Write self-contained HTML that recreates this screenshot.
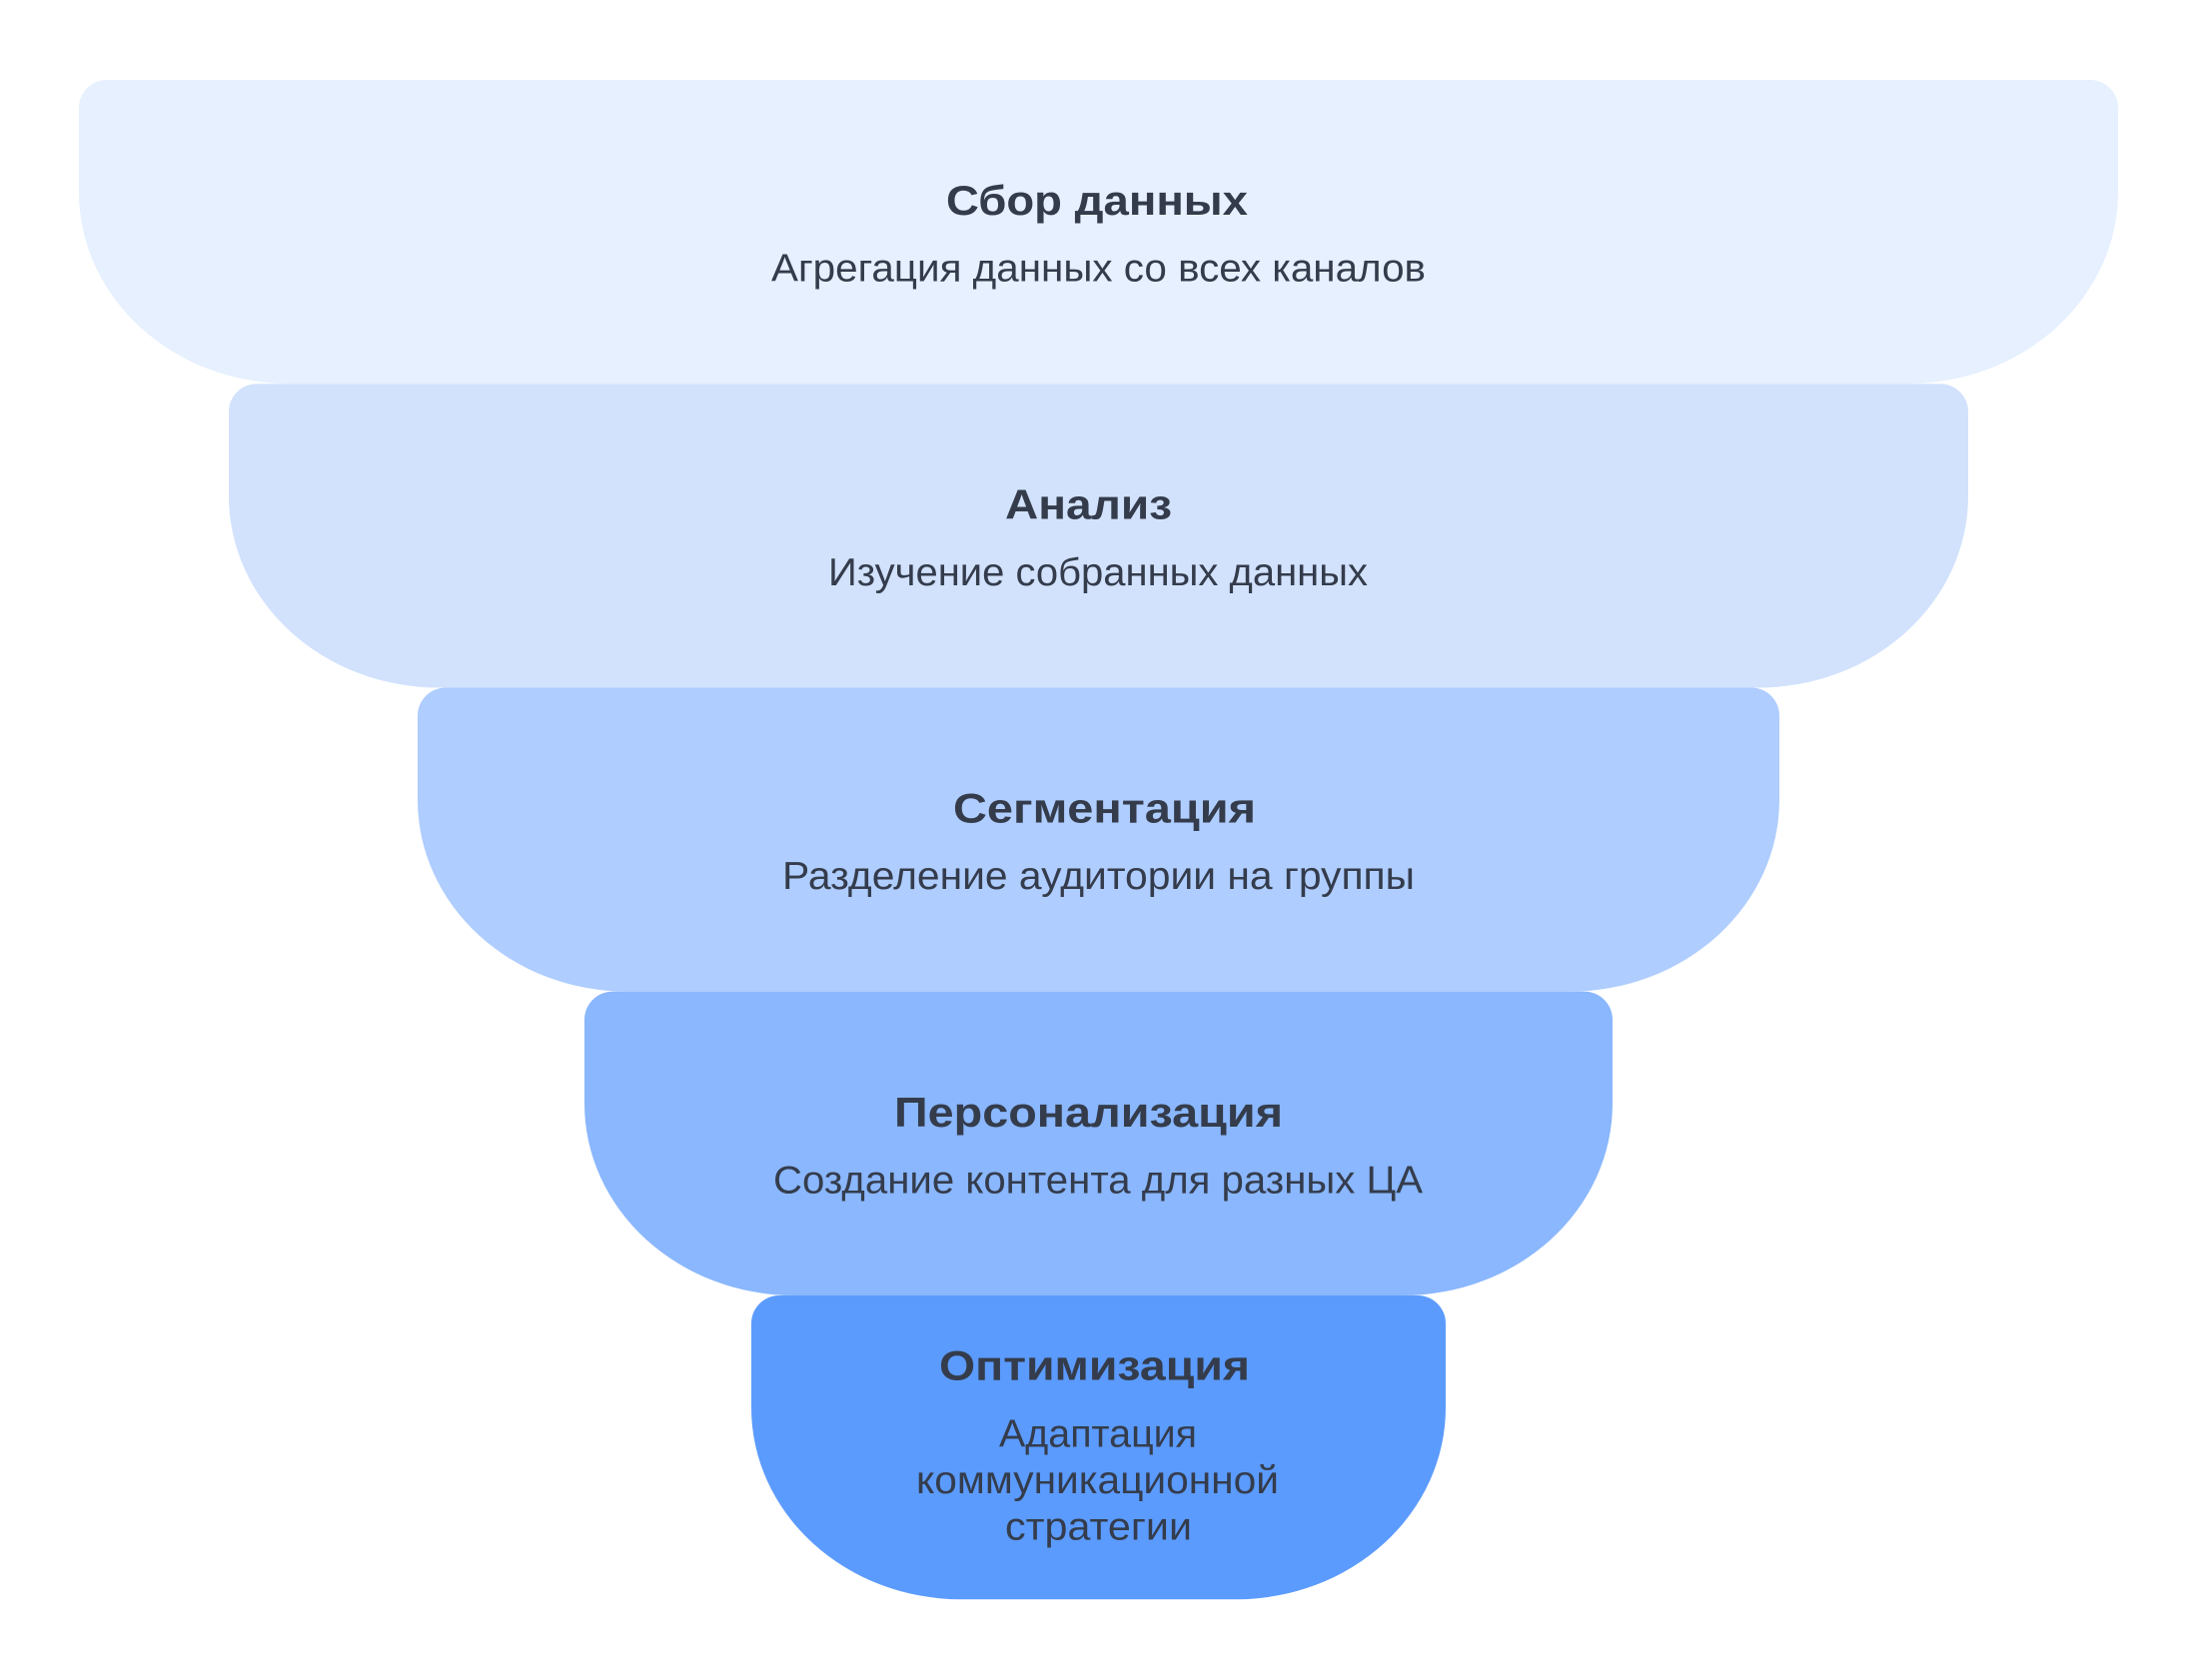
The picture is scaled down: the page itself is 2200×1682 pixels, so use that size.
<!DOCTYPE html>
<html>
<head>
<meta charset="utf-8">
<style>
  html, body { margin: 0; padding: 0; background: #ffffff; }
  body { width: 2200px; height: 1682px; overflow: hidden; }
  svg { display: block; }
  .t { font-family: "Liberation Sans", "Noto Sans CJK SC", sans-serif; font-weight: 700; font-size: 42px; fill: #343c4c; }
  .s { font-family: "Liberation Sans", "Noto Sans CJK SC", sans-serif; font-weight: 400; font-size: 39px; fill: #343c4c; }
</style>
</head>
<body>
<svg width="2200" height="1682" viewBox="0 0 2200 1682" xmlns="http://www.w3.org/2000/svg">
  <rect x="0" y="0" width="2200" height="1682" fill="#ffffff"/>

  <!-- Shape 1 -->
  <path fill="#E6F0FE" d="M107,80 H2092 A28,28 0 0 1 2120,108 V192 A210,192 0 0 1 1910,384 H289 A210,192 0 0 1 79,192 V108 A28,28 0 0 1 107,80 Z"/>
  <!-- Shape 2 -->
  <path fill="#D2E2FD" d="M257,384.25 H1942 A28,28 0 0 1 1970,412.25 V496.5 A210,192 0 0 1 1760,688.5 H439 A210,192 0 0 1 229,496.5 V412.25 A28,28 0 0 1 257,384.25 Z"/>
  <!-- Shape 3 -->
  <path fill="#AFCDFE" d="M446,688.5 H1753 A28,28 0 0 1 1781,716.5 V800.75 A210,192 0 0 1 1571,992.75 H628 A210,192 0 0 1 418,800.75 V716.5 A28,28 0 0 1 446,688.5 Z"/>
  <!-- Shape 4 -->
  <path fill="#8AB7FD" d="M613,992.75 H1586 A28,28 0 0 1 1614,1020.75 V1105 A210,192 0 0 1 1404,1297 H795 A210,192 0 0 1 585,1105 V1020.75 A28,28 0 0 1 613,992.75 Z"/>
  <!-- Shape 5 -->
  <path fill="#5B9BFD" d="M780,1297 H1419 A28,28 0 0 1 1447,1325 V1409.25 A210,192 0 0 1 1237,1601.25 H962 A210,192 0 0 1 752,1409.25 V1325 A28,28 0 0 1 780,1297 Z"/>

  <!-- Text 1 -->
  <text class="t" x="1098" y="215" text-anchor="middle" textLength="302" lengthAdjust="spacingAndGlyphs">Сбор данных</text>
  <text class="s" x="1099.5" y="281.7" text-anchor="middle" textLength="655" lengthAdjust="spacingAndGlyphs">Агрегация данных со всех каналов</text>

  <!-- Text 2 -->
  <text class="t" x="1089.5" y="519.25" text-anchor="middle" textLength="167" lengthAdjust="spacingAndGlyphs">Анализ</text>
  <text class="s" x="1099" y="585.95" text-anchor="middle" textLength="540" lengthAdjust="spacingAndGlyphs">Изучение собранных данных</text>

  <!-- Text 3 -->
  <text class="t" x="1105.5" y="823.5" text-anchor="middle" textLength="303" lengthAdjust="spacingAndGlyphs">Сегментация</text>
  <text class="s" x="1099.5" y="890.2" text-anchor="middle" textLength="633" lengthAdjust="spacingAndGlyphs">Разделение аудитории на группы</text>

  <!-- Text 4 -->
  <text class="t" x="1089.5" y="1127.75" text-anchor="middle" textLength="389" lengthAdjust="spacingAndGlyphs">Персонализация</text>
  <text class="s" x="1099" y="1194.45" text-anchor="middle" textLength="650" lengthAdjust="spacingAndGlyphs">Создание контента для разных ЦА</text>

  <!-- Text 5 -->
  <text class="t" x="1095.5" y="1381.7" text-anchor="middle" textLength="311" lengthAdjust="spacingAndGlyphs">Оптимизация</text>
  <text class="s" x="1099" y="1448.3" text-anchor="middle" textLength="198" lengthAdjust="spacingAndGlyphs">Адаптация</text>
  <text class="s" x="1098.5" y="1495" text-anchor="middle" textLength="363" lengthAdjust="spacingAndGlyphs">коммуникационной</text>
  <text class="s" x="1099.5" y="1541.7" text-anchor="middle" textLength="187" lengthAdjust="spacingAndGlyphs">стратегии</text>
</svg>
</body>
</html>
